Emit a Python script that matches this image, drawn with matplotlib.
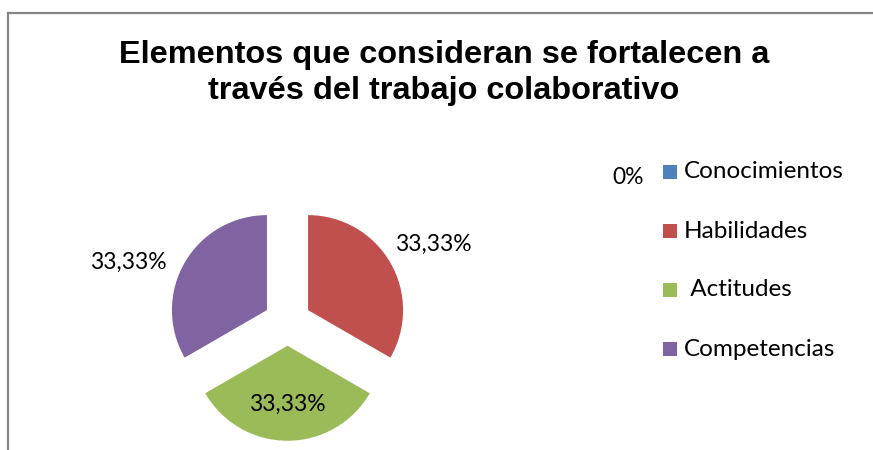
import matplotlib
matplotlib.use("Agg")
import matplotlib.pyplot as plt
import numpy as np
from matplotlib.lines import Line2D
from matplotlib.patches import Rectangle

categories = ["Conocimientos", "Habilidades", " Actitudes", "Competencias"]
values = [0.0, 33.33, 33.33, 33.33]
labels = ["0%", "33,33%", "33,33%", "33,33%"]
colors = ["#4F81BD", "#C0504D", "#9BBB59", "#8064A2"]

W, H = 873, 450
fig = plt.figure(figsize=(W / 100, H / 100), dpi=100)
fig.patch.set_facecolor("white")

# frame
fig.add_artist(Line2D([7.5 / W, 7.5 / W], [0, 1 - 12.5 / H], transform=fig.transFigure,
                      color="#868686", lw=1.6))
fig.add_artist(Line2D([7.5 / W, 1], [1 - 12.5 / H, 1 - 12.5 / H], transform=fig.transFigure,
                      color="#868686", lw=1.6))

# axes mapped so 1 data unit = R px
cx, cy, R = 287.5, 322.0, 95.0
ax = fig.add_axes([0, 0, 1, 1])
ax.axis("off")

wedges, _ = ax.pie(values, colors=colors, startangle=90, counterclock=False,
                   explode=[0.25] * len(values), radius=1.0, center=(0, 0),
                   wedgeprops=dict(linewidth=0))
ax.set_aspect("auto")
ax.set_xlim((0 - cx) / R, (W - cx) / R)
ax.set_ylim((cy - H) / R, cy / R)

lab_font = "Lato"
lab_size = 16.5
# data labels: outside for red/purple, inside for green, 0% placed near legend
lab_r = [None, 1.74, 0.87, 1.79]
lab_ang_off = [0, -2.1, 0, 9.4]
for i, w in enumerate(wedges):
    if lab_r[i] is None:
        continue
    ang = np.deg2rad((w.theta1 + w.theta2) / 2 + lab_ang_off[i])
    ax.text(lab_r[i] * np.cos(ang), lab_r[i] * np.sin(ang), labels[i],
            ha="center", va="center", fontsize=lab_size, family=lab_font, color="black")
ax.text((628 - cx) / R, (cy - 178) / R, labels[0], ha="center", va="center",
        fontsize=lab_size, family=lab_font, color="black")

# legend
leg_y = [172, 231, 290, 349]
for i, name in enumerate(categories):
    y = leg_y[i]
    fig.add_artist(Rectangle((663 / W, 1 - (y + 7) / H), 14 / W, 14 / H,
                             transform=fig.transFigure, facecolor=colors[i], edgecolor="none"))
    fig.text(684 / W, 1 - y / H, name, ha="left", va="center", fontsize=17.5,
             family=lab_font, color="black")

fig.text(444 / W, 1 - 73 / H, "Elementos que consideran se fortalecen a\ntravés del trabajo colaborativo",
         ha="center", va="center", fontsize=23.4, fontweight="bold",
         family="Liberation Sans", linespacing=1.25, color="black")

fig.savefig("out.png", dpi=100, facecolor="white")
